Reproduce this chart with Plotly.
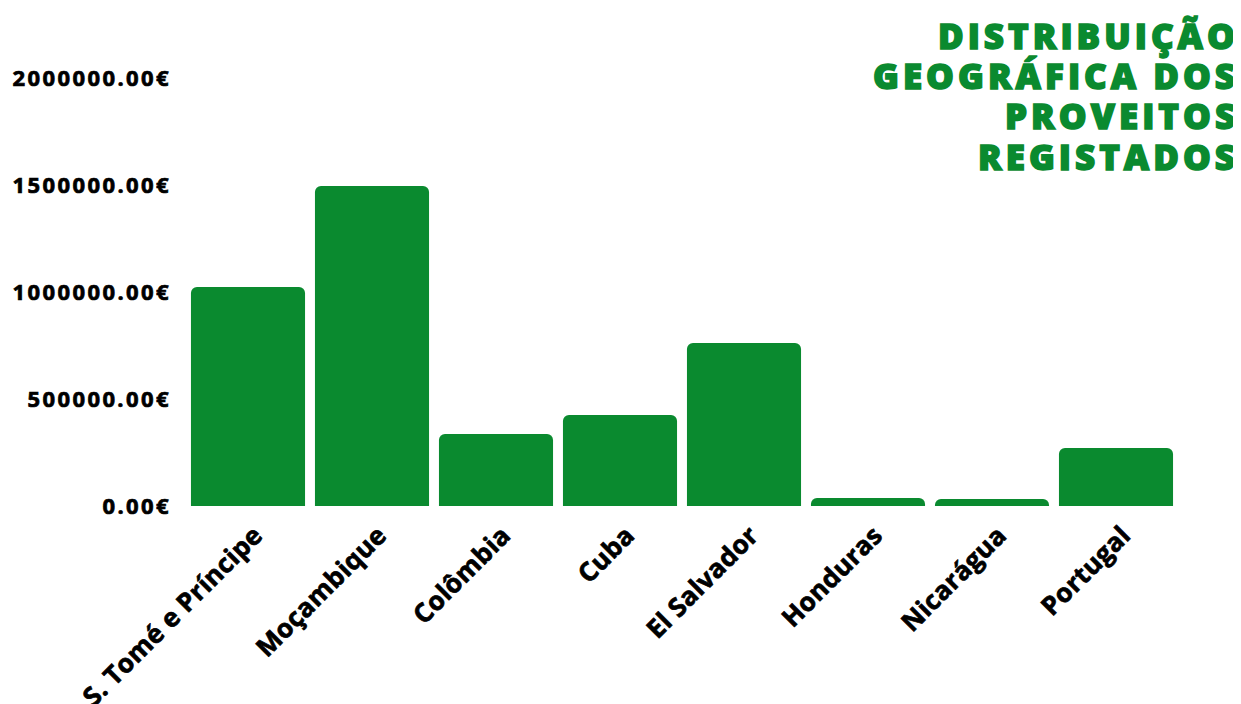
import plotly.graph_objects as go

countries = ["S. Tomé e Príncipe", "Moçambique", "Colômbia", "Cuba", "El Salvador",
             "Honduras", "Nicarágua", "Portugal"]
proveitos = [1023000, 1495000, 336000, 425000, 762000, 37000, 33000, 271000]
y_ticks = [0, 500000, 1000000, 1500000, 2000000]
title_lines = ["DISTRIBUIÇÃO", "GEOGRÁFICA DOS", "PROVEITOS", "REGISTADOS"]

GREEN = "#0a8a2f"
FONT = "Open Sans"


def styled(s, spacing, color, stroke):
    return (f'<span style="letter-spacing:{spacing}px;stroke:{color};'
            f'stroke-width:{stroke}px">{s}</span>')


y_tick_labels = [styled(f"{v:.2f}€", 2.4, "#000", 0.7) for v in y_ticks]
x_tick_labels = [styled(c, 0.3, "#000", 0.7) for c in countries]

# page body has an 8px margin; figure is sized to fill the remaining window
OFF = 8
W, H = 1241 - OFF, 704 - OFF
L, R, T, B = 186 - OFF, 63, 78 - OFF, 198
plot_w, plot_h = W - L - R, H - T - B

fig = go.Figure(go.Bar(
    x=countries, y=proveitos,
    marker=dict(color=GREEN, cornerradius=6, line=dict(width=0)),
))

annotations = []
for i, line in enumerate(title_lines):
    py = 36 + 40 * i - OFF  # pixel centre of each title line
    annotations.append(dict(
        text=styled(line, 4.0, GREEN, 1.5), xref="paper", yref="paper",
        x=1 + (1241 - OFF - (W - R)) / plot_w, y=(H - B - py) / plot_h,
        xanchor="right", yanchor="middle", align="right", showarrow=False,
        font=dict(family=FONT, size=35, weight=800, color=GREEN),
    ))

fig.update_layout(
    width=W, height=H,
    paper_bgcolor="white", plot_bgcolor="white",
    margin=dict(l=L, r=R, t=T, b=B, autoexpand=False),
    bargap=0.08,
    showlegend=False,
    font=dict(family=FONT, color="black"),
    xaxis=dict(tickangle=-45, showgrid=False, showline=False, ticks="", automargin=False,
               tickvals=countries, ticktext=x_tick_labels,
               ticklabelstandoff=8, ticklabelshift=7,
               tickfont=dict(family=FONT, size=26, weight="bold", color="black")),
    yaxis=dict(range=[0, 2000000], tickvals=y_ticks, ticktext=y_tick_labels,
               showgrid=False, zeroline=False, showline=False, ticks="", automargin=False,
               ticklabelstandoff=14,
               tickfont=dict(family=FONT, size=22, weight="bold", color="black")),
    annotations=annotations,
)

fig.write_html("out.html")
